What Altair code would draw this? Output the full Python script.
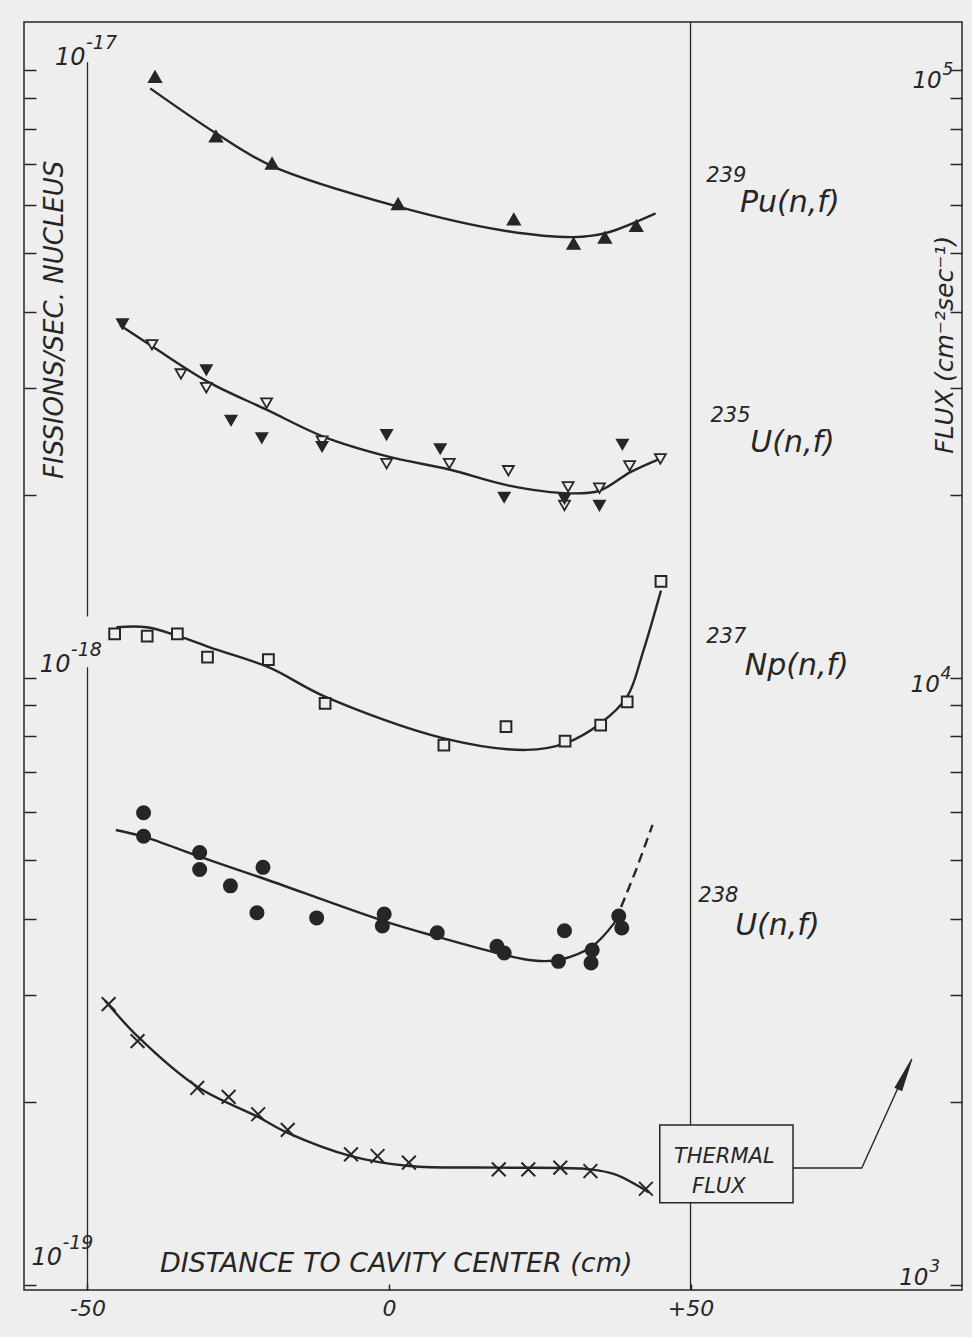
import altair as alt
import pandas as pd

BG = "#eeeeee"
INK = "#262626"
FONT = "DejaVu Sans"

# ---------------- scales / ticks ----------------
x_domain = [-60.53, 95.02]
fis_domain = [9.81e-20, 1.2e-17]
flux_domain = [981.0, 1.2e5]
x_ticks = [-50, 0, 50]
fis_ticks = [1e-19, 2e-19, 3e-19, 4e-19, 5e-19, 6e-19, 7e-19, 8e-19, 9e-19,
             1e-18, 2e-18, 3e-18, 4e-18, 5e-18, 6e-18, 7e-18, 8e-18, 9e-18, 1e-17]
flux_ticks = [1e3, 2e3, 3e3, 4e3, 5e3, 6e3, 7e3, 8e3, 9e3,
              1e4, 2e4, 3e4, 4e4, 5e4, 6e4, 7e4, 8e4, 9e4, 1e5]

# ---------------- data ----------------
# 239Pu(n,f)
pu_x = [-38.8, -28.7, -19.4, 1.5, 20.7, 30.6, 35.8, 41.0]
pu_y = [9.75e-18, 7.78e-18, 7.02e-18, 6.02e-18, 5.68e-18, 5.18e-18, 5.30e-18, 5.54e-18]
pu_fit_x = [-39.6, -28.7, -19.4, 1.5, 18.7, 30.6, 35.9, 44.2]
pu_fit_y = [9.33e-18, 7.87e-18, 6.95e-18, 5.96e-18, 5.45e-18, 5.31e-18, 5.39e-18, 5.81e-18]

# 235U(n,f)  filled and open triangles
u5f_x = [-44.2, -30.3, -26.2, -21.1, -11.1, -0.4, 8.5, 19.1, 29.1, 34.9, 38.7]
u5f_y = [3.82e-18, 3.21e-18, 2.65e-18, 2.48e-18, 2.40e-18, 2.51e-18, 2.38e-18,
         1.98e-18, 1.97e-18, 1.92e-18, 2.42e-18]
u5o_x = [-39.3, -34.5, -30.3, -20.3, -11.1, -0.4, 10.0, 19.8, 29.7, 34.9, 39.9, 45.0, 29.1]
u5o_y = [3.53e-18, 3.16e-18, 3.00e-18, 2.83e-18, 2.45e-18, 2.25e-18, 2.25e-18,
         2.19e-18, 2.06e-18, 2.05e-18, 2.23e-18, 2.29e-18, 1.92e-18]
u5_fit_x = [-44.6, -39.3, -30.1, -20.3, -10.8, -0.1, 10.0, 19.9, 30.0, 34.9, 40.1, 45.3]
u5_fit_y = [3.80e-18, 3.51e-18, 3.07e-18, 2.76e-18, 2.49e-18, 2.31e-18, 2.20e-18,
            2.07e-18, 2.01e-18, 2.03e-18, 2.18e-18, 2.30e-18]

# 237Np(n,f)
np_x = [-45.5, -40.1, -35.1, -30.1, -20.0, -10.6, 9.1, 19.4, 29.2, 35.1, 39.5, 45.1]
np_y = [1.18e-18, 1.17e-18, 1.18e-18, 1.08e-18, 1.07e-18, 9.07e-19, 7.74e-19,
        8.30e-19, 7.86e-19, 8.35e-19, 9.12e-19, 1.44e-18]
np_fit_x = [-45.2, -40.2, -34.9, -29.6, -20.0, -10.6, 9.1, 22.8, 29.2, 35.1, 39.5, 42.1, 45.1]
np_fit_y = [1.21e-18, 1.21e-18, 1.17e-18, 1.12e-18, 1.04e-18, 9.30e-19, 7.94e-19,
            7.60e-19, 7.79e-19, 8.41e-19, 9.30e-19, 1.10e-18, 1.39e-18]

# 238U(n,f)
u8_x = [-40.7, -40.7, -31.4, -31.4, -20.9, -26.3, -21.9, -12.0, -0.8, -1.1, 8.0,
        17.9, 19.1, 29.1, 28.1, 33.7, 33.5, 38.1, 38.6]
u8_y = [5.99e-19, 5.48e-19, 5.15e-19, 4.83e-19, 4.87e-19, 4.54e-19, 4.10e-19, 4.02e-19,
        4.08e-19, 3.90e-19, 3.80e-19, 3.61e-19, 3.52e-19, 3.83e-19, 3.41e-19, 3.56e-19,
        3.39e-19, 4.05e-19, 3.87e-19]
u8_fit_x = [-45.3, -40.7, -31.4, -21.4, -1.1, 8.1, 17.9, 24.0, 28.3, 33.7, 37.5]
u8_fit_y = [5.61e-19, 5.47e-19, 5.07e-19, 4.69e-19, 3.98e-19, 3.74e-19, 3.52e-19,
            3.42e-19, 3.43e-19, 3.61e-19, 3.96e-19]
u8_ext_x = [37.5, 41.0, 43.7]
u8_ext_y = [3.96e-19, 4.83e-19, 5.72e-19]

# Thermal flux (cm^-2 sec^-1), right axis
th_x = [-46.5, -41.7, -31.8, -26.6, -21.7, -16.8, -6.3, -1.9, 3.3, 18.2, 23.1, 28.4, 33.4, 42.6]
th_y = [2900, 2520, 2110, 2040, 1910, 1800, 1640, 1630, 1590, 1550, 1550, 1560, 1540, 1440]
th_fit_x = [-47.1, -41.6, -31.8, -21.7, -16.8, -6.3, 3.3, 18.2, 33.4, 37.5, 43.1]
th_fit_y = [2940, 2560, 2120, 1890, 1780, 1630, 1570, 1560, 1550, 1520, 1420]

# ---------------- annotations ----------------
frame_x = [-50, 50]
m50_y = [1.03e-17, 1.04e-18]
m50_y2 = [1.26e-18, 9.81e-20]

lab_fis_x = [-55.4, -57.9, -59.3]
lab_fis_y = [1.02e-17, 1.02e-18, 1.08e-19]
lab_fis_exp = ["-17", "-18", "-19"]
lab_flux_x = [86.8, 86.5, 84.6]
lab_flux_y = [9.34e4, 9.46e3, 1.0e3]
lab_flux_exp = ["5", "4", "3"]

sup_text = ["239", "235", "237", "238"]
sup_x = [52.6, 53.3, 52.6, 51.3]
sup_y = [6.54e-18, 2.63e-18, 1.14e-18, 4.27e-19]
main_text = ["Pu(n,f)", "U(n,f)", "Np(n,f)", "U(n,f)"]
main_x = [58.2, 59.9, 59.0, 57.4]
main_y = [5.84e-18, 2.35e-18, 1.01e-18, 3.77e-19]

x_title = "DISTANCE TO CAVITY CENTER (cm)"
y_title = "FISSIONS/SEC. NUCLEUS"
y2_title = "FLUX (cm⁻²sec⁻¹)"

box_x, box_x2 = [44.9], [67.0]
box_y, box_y2 = [1834], [1365]
box_text = ["THERMAL", "FLUX"]
box_text_x = [55.6, 54.7]
box_text_y = [1588, 1417]
conn_x = [67.0, 78.4, 84.4]
conn_y = [1558, 1558, 2110]
arrow_x = [85.6]
arrow_y = [2225]

# ---------------- encodings ----------------
X = alt.X("x:Q", scale=alt.Scale(domain=x_domain, nice=False, zero=False),
          axis=alt.Axis(values=x_ticks, orient="bottom", offset=-6, tickSize=6,
                        domain=False, grid=False, title=None,
                        labelExpr="datum.value > 0 ? '+' + datum.value : '' + datum.value",
                        labelFont=FONT, labelFontStyle="italic", labelFontSize=22,
                        labelColor=INK, labelPadding=8, tickColor=INK, tickWidth=1.5))
Y_FIS = alt.Y("y:Q", scale=alt.Scale(type="log", domain=fis_domain, nice=False),
              axis=alt.Axis(orient="left", values=fis_ticks, offset=-12, tickSize=12,
                            labels=False, domain=False, grid=False, title=None,
                            tickColor=INK, tickWidth=1.5))
Y_FLUX = alt.Y("y:Q", scale=alt.Scale(type="log", domain=flux_domain, nice=False),
               axis=alt.Axis(orient="right", values=flux_ticks, offset=-12, tickSize=12,
                             labels=False, domain=False, grid=False, title=None,
                             tickColor=INK, tickWidth=1.5))
Y2 = alt.Y2("y2:Q")


def df(x, y, **extra):
    d = {"x": x, "y": y}
    d.update(extra)
    return pd.DataFrame(d)


def pts(data, yenc, shape, fill, size, sw=1.8):
    return alt.Chart(data).mark_point(shape=shape, filled=True, fill=fill, stroke=INK,
                                      strokeWidth=sw, size=size, opacity=1,
                                      fillOpacity=1).encode(x=X, y=yenc)


def curve(data, yenc, dash=None, interp="catmull-rom", sw=2.4):
    kw = dict(color=INK, strokeWidth=sw, interpolate=interp)
    if dash:
        kw["strokeDash"] = dash
    return alt.Chart(data).mark_line(**kw).encode(x=X, y=yenc)


def txt(data, yenc, size, align="left", baseline="alphabetic", angle=0, dx=0, dy=0):
    return alt.Chart(data).mark_text(align=align, baseline=baseline, font=FONT,
                                     fontStyle="italic", fontSize=size, color=INK,
                                     angle=angle, dx=dx, dy=dy).encode(x=X, y=yenc, text="t:N")


XSHAPE = "M-1,-1L1,1M-1,1L1,-1"
ARROW = "M0,-1L0.22,1L-0.22,1Z"

fis = alt.layer(
    alt.Chart(df([frame_x[0]] * 2, m50_y, y2=m50_y2)).mark_rule(color=INK, strokeWidth=1.3)
    .encode(x=X, y=Y_FIS, y2=Y2),
    alt.Chart(df([frame_x[1]], [fis_domain[1]], y2=[fis_domain[0]])).mark_rule(color=INK, strokeWidth=1.3)
    .encode(x=X, y=Y_FIS, y2=Y2),
    curve(df(pu_fit_x, pu_fit_y), Y_FIS),
    pts(df(pu_x, pu_y), Y_FIS, "triangle-up", INK, 150),
    curve(df(u5_fit_x, u5_fit_y), Y_FIS),
    pts(df(u5o_x, u5o_y), Y_FIS, "triangle-down", BG, 120),
    pts(df(u5f_x, u5f_y), Y_FIS, "triangle-down", INK, 120),
    curve(df(np_fit_x, np_fit_y), Y_FIS),
    pts(df(np_x, np_y), Y_FIS, "square", BG, 115, sw=2),
    curve(df(u8_fit_x, u8_fit_y), Y_FIS),
    curve(df(u8_ext_x, u8_ext_y), Y_FIS, dash=[10, 6], interp="linear"),
    pts(df(u8_x, u8_y), Y_FIS, "circle", INK, 175),
    txt(df(lab_fis_x, lab_fis_y, t=["10"] * 3), Y_FIS, 24),
    txt(df(lab_fis_x, lab_fis_y, t=lab_fis_exp), Y_FIS, 19, dx=31, dy=-16),
    txt(df(sup_x, sup_y, t=sup_text), Y_FIS, 21),
    txt(df(main_x, main_y, t=main_text), Y_FIS, 30),
    txt(df([1.2], [1.05e-19], t=[x_title]), Y_FIS, 27, align="center"),
    txt(df([-55.4], [3.88e-18], t=[y_title]), Y_FIS, 26, align="center",
        baseline="middle", angle=270),
)

flux = alt.layer(
    alt.Chart(df(box_x, box_y, x2=box_x2, y2=box_y2)).mark_rect(fill=BG, stroke=INK, strokeWidth=1.5)
    .encode(x=X, x2=alt.X2("x2:Q"), y=Y_FLUX, y2=Y2),
    curve(df(th_fit_x, th_fit_y), Y_FLUX),
    alt.Chart(df(th_x, th_y)).mark_point(shape=XSHAPE, filled=False, stroke=INK, strokeWidth=2,
                                         size=190, opacity=1).encode(x=X, y=Y_FLUX),
    curve(df(conn_x, conn_y), Y_FLUX, interp="linear", sw=1.4),
    alt.Chart(df(arrow_x, arrow_y)).mark_point(shape=ARROW, filled=True, fill=INK, stroke=INK,
                                               strokeWidth=1, size=1100, angle=24, opacity=1)
    .encode(x=X, y=Y_FLUX),
    txt(df(box_text_x, box_text_y, t=box_text), Y_FLUX, 21, align="center"),
    txt(df(lab_flux_x, lab_flux_y, t=["10"] * 3), Y_FLUX, 23),
    txt(df(lab_flux_x, lab_flux_y, t=lab_flux_exp), Y_FLUX, 17, dx=30, dy=-13),
    txt(df([92.2], [3.53e4], t=[y2_title]), Y_FLUX, 25, align="center",
        baseline="middle", angle=270),
)

chart = (
    alt.layer(fis, flux)
    .resolve_scale(y="independent")
    .properties(width=938, height=1268,
                autosize=alt.AutoSizeParams(type="none"),
                padding={"left": 24, "top": 22, "right": 10, "bottom": 47},
                background=BG)
    .configure_view(stroke=INK, strokeWidth=1.5)
)

chart.save("out.html", embed_options={"renderer": "svg", "actions": False})
